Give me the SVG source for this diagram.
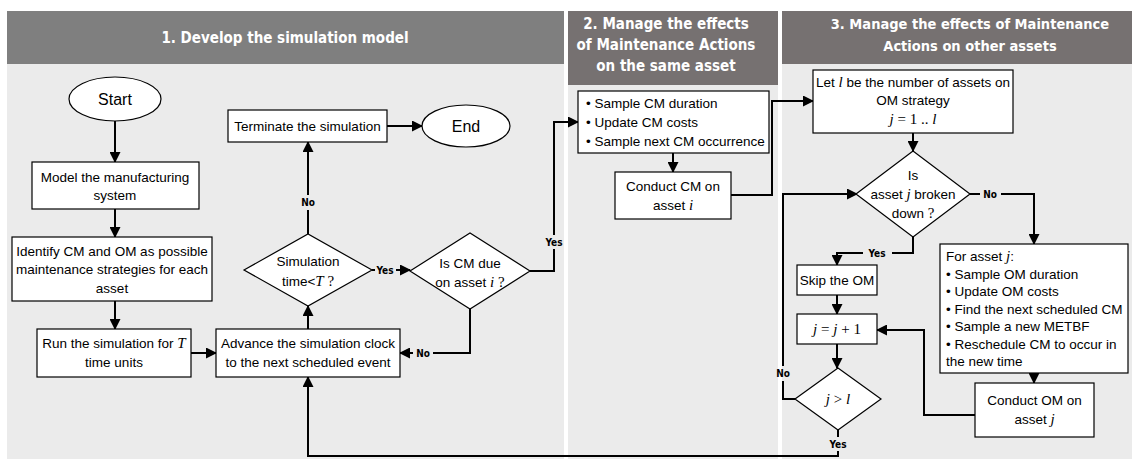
<svg xmlns="http://www.w3.org/2000/svg" width="1132" height="459" viewBox="0 0 1132 459">
<defs>
<marker id="ah" markerWidth="11" markerHeight="11" refX="10" refY="5.5" orient="auto" markerUnits="userSpaceOnUse">
<path d="M0,0 L11,5.5 L0,11 Z" fill="#000"/>
</marker>
<style>
.hdr{fill:#fff;font-family:"DejaVu Sans Condensed","DejaVu Sans",sans-serif;font-stretch:condensed;font-weight:bold;font-size:15px;text-anchor:middle}
.box{fill:#fff;stroke:#000;stroke-width:1.2}
.t{font-family:"Liberation Sans",Arial,sans-serif;font-size:13.5px;fill:#000;text-anchor:middle}
.tl{font-family:"Liberation Sans",Arial,sans-serif;font-size:13.5px;fill:#000}
.big{font-family:"Liberation Sans",Arial,sans-serif;font-size:16px;fill:#000;text-anchor:middle}
.m{font-family:"Liberation Serif","Times New Roman",serif;font-style:italic;font-size:15px}
.mr{font-family:"Liberation Serif","Times New Roman",serif;font-size:15px}
.lbl{font-family:"DejaVu Sans Condensed","DejaVu Sans",sans-serif;font-stretch:condensed;font-weight:bold;font-size:10px;fill:#000;text-anchor:middle}
.c{fill:none;stroke:#000;stroke-width:2}
.a{marker-end:url(#ah)}
.bg{fill:#ebebeb}
</style>
</defs>
<rect width="1132" height="459" fill="#fff"/>
<g id="panels">
<rect class="bg" x="7" y="64" width="557" height="395"/>
<rect x="7" y="11" width="557" height="53" fill="#7f7f7f"/>
<text class="hdr" x="285" y="43">1. Develop the simulation model</text>
<rect class="bg" x="568" y="85" width="210" height="374"/>
<rect x="568" y="11" width="210" height="74" fill="#767171"/>
<text class="hdr" x="666" y="29">2. Manage the effects</text>
<text class="hdr" x="666" y="50">of Maintenance Actions</text>
<text class="hdr" x="666" y="71">on the same asset</text>
<rect class="bg" x="782" y="64" width="350" height="395"/>
<rect x="782" y="11" width="350" height="53" fill="#767171"/>
<text class="hdr" x="970" y="29" style="font-size:14.5px">3. Manage the effects of Maintenance</text>
<text class="hdr" x="970" y="51" style="font-size:14.5px">Actions on other assets</text>
</g>
<g id="connectors">
<path class="c a" d="M115,121 V162"/>
<path class="c a" d="M115,209 V237"/>
<path class="c a" d="M115,301 V329"/>
<path class="c a" d="M191,353 H216"/>
<path class="c a" d="M308,329 V306"/>
<path class="c" d="M308,234 V210"/>
<path class="c a" d="M308,195 V142"/>
<path class="c a" d="M387,126 H422"/>
<path class="c a" d="M396,270 H410"/>
<path class="c" d="M372,270 H375"/>
<path class="c" d="M470,309 V353 H433"/>
<path class="c a" d="M413,353 H400"/>
<path class="c" d="M530,271 H554 V249"/>
<path class="c a" d="M554,235 V122 H578"/>
<path class="c a" d="M673,153 V172"/>
<path class="c a" d="M731,195 H772 V101 H813"/>
<path class="c a" d="M913,133 V151"/>
<path class="c" d="M970,194 H980"/>
<path class="c a" d="M1001,194 H1034 V244"/>
<path class="c" d="M913,237 V253 H892"/>
<path class="c a" d="M863,253 H837 V265"/>
<path class="c a" d="M837,295 V314"/>
<path class="c a" d="M837,344 V368"/>
<path class="c" d="M795,399 H783 V381"/>
<path class="c a" d="M783,366 V194 H857"/>
<path class="c" d="M838,430 V437"/>
<path class="c a" d="M838,451 V456 H308 V377"/>
<path class="c a" d="M1034,373 V383"/>
<path class="c a" d="M975,415 H924 V330 H877"/>
</g>
<g id="labels">
<text class="lbl" x="308" y="206">No</text>
<text class="lbl" x="385" y="274">Yes</text>
<text class="lbl" x="423" y="357">No</text>
<text class="lbl" x="554" y="246">Yes</text>
<text class="lbl" x="990" y="198">No</text>
<text class="lbl" x="877" y="257">Yes</text>
<text class="lbl" x="783" y="377">No</text>
<text class="lbl" x="838" y="448">Yes</text>
</g>
<g id="start">
<ellipse class="box" cx="115" cy="99" rx="46" ry="22"/>
<text class="big" x="115" y="105">Start</text>
</g>
<g id="model">
<rect class="box" x="32" y="162" width="167" height="47"/>
<text class="t" x="115" y="182">Model the manufacturing</text>
<text class="t" x="115" y="200">system</text>
</g>
<g id="identify">
<rect class="box" x="12" y="237" width="200" height="64"/>
<text class="t" x="112" y="256">Identify CM and OM as possible</text>
<text class="t" x="112" y="274">maintenance strategies for each</text>
<text class="t" x="112" y="293">asset</text>
</g>
<g id="run">
<rect class="box" x="37" y="329" width="154" height="48"/>
<text class="t" x="114" y="348">Run the simulation for <tspan class="m">T</tspan></text>
<text class="t" x="114" y="367">time units</text>
</g>
<g id="advance">
<rect class="box" x="216" y="329" width="184" height="48"/>
<text class="t" x="308" y="348">Advance the simulation clock</text>
<text class="t" x="308" y="367">to the next scheduled event</text>
</g>
<g id="simtime">
<polygon class="box" points="244,270 308,234 372,270 308,306"/>
<text class="t" x="308" y="266">Simulation</text>
<text class="t" x="308" y="286">time&lt;<tspan class="m">T</tspan> <tspan class="mr">?</tspan></text>
</g>
<g id="terminate">
<rect class="box" x="228" y="110" width="159" height="32"/>
<text class="t" x="307.5" y="130.5">Terminate the simulation</text>
</g>
<g id="end">
<ellipse class="box" cx="466" cy="126" rx="44" ry="21"/>
<text class="big" x="466" y="132">End</text>
</g>
<g id="cmdue">
<polygon class="box" points="410,271 470,233 530,271 470,309"/>
<text class="t" x="470" y="268">Is CM due</text>
<text class="t" x="470" y="287">on asset <tspan class="m">i</tspan> <tspan class="mr">?</tspan></text>
</g>
<g id="samplecm">
<rect class="box" x="578" y="91" width="191" height="62"/>
<text class="tl" x="586" y="108">•  Sample CM duration</text>
<text class="tl" x="586" y="127">•  Update CM costs</text>
<text class="tl" x="586" y="146">•  Sample next CM occurrence</text>
</g>
<g id="conductcm">
<rect class="box" x="615" y="172" width="116" height="47"/>
<text class="t" x="673" y="191">Conduct CM on</text>
<text class="t" x="673" y="210">asset <tspan class="m">i</tspan></text>
</g>
<g id="letl">
<rect class="box" x="813" y="70" width="200" height="63"/>
<text class="t" x="913" y="87">Let <tspan class="m">l</tspan> be the number of assets on</text>
<text class="t" x="913" y="105">OM strategy</text>
<text class="mr" x="913" y="124" text-anchor="middle"><tspan class="m">j</tspan> = 1 .. <tspan class="m">l</tspan></text>
</g>
<g id="broken">
<polygon class="box" points="856,194 913,151 970,194 913,237"/>
<text class="t" x="913" y="180">Is</text>
<text class="t" x="913" y="199">asset <tspan class="m">j</tspan> broken</text>
<text class="t" x="913" y="218">down <tspan class="mr">?</tspan></text>
</g>
<g id="forasset">
<rect class="box" x="940" y="244" width="188" height="129"/>
<text class="tl" x="946" y="261">For asset <tspan class="m">j</tspan>:</text>
<text class="tl" x="946" y="279">•  Sample OM duration</text>
<text class="tl" x="946" y="296">•  Update OM costs</text>
<text class="tl" x="946" y="314">•  Find the next scheduled CM</text>
<text class="tl" x="946" y="331">•  Sample a new METBF</text>
<text class="tl" x="946" y="349">•  Reschedule CM to occur in</text>
<text class="tl" x="946" y="366">   the new time</text>
</g>
<g id="skip">
<rect class="box" x="797" y="265" width="80" height="30"/>
<text class="t" x="837" y="285">Skip the OM</text>
</g>
<g id="jinc">
<rect class="box" x="797" y="314" width="80" height="30"/>
<text class="mr" x="837" y="334" text-anchor="middle"><tspan class="m">j</tspan> = <tspan class="m">j</tspan> + 1</text>
</g>
<g id="jgtl">
<polygon class="box" points="795,399 838,368 881,399 838,430"/>
<text class="mr" x="838" y="404" text-anchor="middle"><tspan class="m">j</tspan> &gt; <tspan class="m">l</tspan></text>
</g>
<g id="conductom">
<rect class="box" x="975" y="383" width="119" height="54"/>
<text class="t" x="1034.5" y="405">Conduct OM on</text>
<text class="t" x="1034.5" y="424">asset <tspan class="m">j</tspan></text>
</g>
</svg>
